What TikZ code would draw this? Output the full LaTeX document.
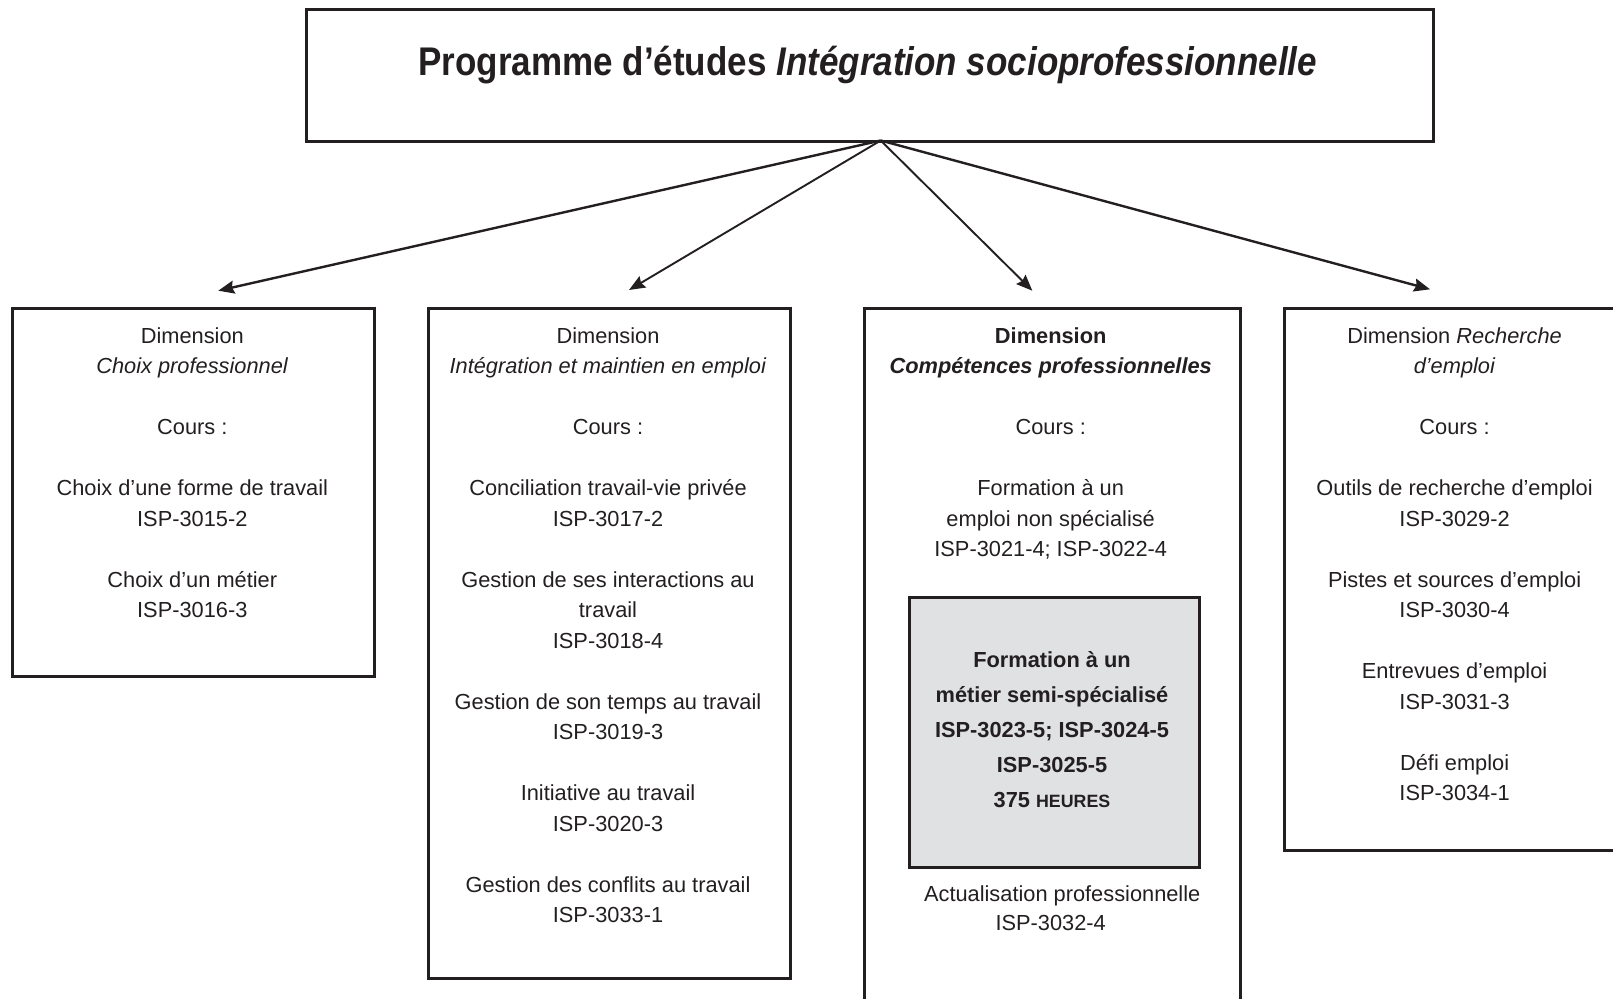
\documentclass[tikz,border=0pt]{standalone}
\usepackage{fontspec}
\setmainfont{Liberation Sans}
\newfontfamily\narrowfam{Liberation Sans}[FakeStretch=0.875]
\usetikzlibrary{arrows.meta}

\definecolor{ink}{RGB}{35,31,32}
\definecolor{shade}{RGB}{224,225,227}

\newcommand\bodyfont{\fontsize{21.8pt}{30.5pt}\selectfont}
\newcommand\titlefont{\narrowfam\fontsize{40pt}{44pt}\selectfont\bfseries}
\newcommand\gap{\\[30.5pt]}

\tikzset{
  frame/.style={draw=ink, line width=3pt, rectangle, inner sep=0pt, anchor=north west},
  boxtext/.style={font=\bodyfont, text=ink, align=center, anchor=north, inner sep=0pt},
  link/.style={draw=ink, -{Stealth[length=16pt,width=13pt,inset=2pt]}},
}

\begin{document}
\begin{tikzpicture}[x=1pt, y=-1pt]
\useasboundingbox (0,0) rectangle (1613,998);

% programme title
\node[frame, minimum width=1127.5pt, minimum height=132pt] (top) at (304.5,8) {};
\node[font=\titlefont, text=ink, anchor=base, inner sep=0pt] (title) at (867.8,75)
  {Programme d’études \textit{Intégration socioprofessionnelle}};

% dimension frames
\node[frame, minimum width=362.1pt, minimum height=368.3pt] (b1) at (11.3,306.5) {};
\node[frame, minimum width=362pt, minimum height=670pt] (b2) at (427,306.5) {};
\node[frame, minimum width=375.5pt, minimum height=710pt] (b3) at (863,306.5) {};
\node[frame, minimum width=343pt, minimum height=542.5pt] (b4) at (1283,306.5) {};
\node[frame, fill=shade, minimum width=290.1pt, minimum height=270pt] (core) at (908.3,596) {};

% frame contents
\node[boxtext] (t1) at (192.3,327.4)
  {Dimension\\\textit{Choix professionnel}\gap
   Cours :\gap
   Choix d’une forme de travail\\ISP-3015-2\gap
   Choix d’un métier\\ISP-3016-3};

\node[boxtext] (t2) at (608,327.4)
  {Dimension\\\textit{Intégration et maintien en emploi}\gap
   Cours :\gap
   Conciliation travail-vie privée\\ISP-3017-2\gap
   Gestion de ses interactions au\\travail\\ISP-3018-4\gap
   Gestion de son temps au travail\\ISP-3019-3\gap
   Initiative au travail\\ISP-3020-3\gap
   Gestion des conflits au travail\\ISP-3033-1};

\node[boxtext] (t3) at (1050.7,327.4)
  {\textbf{Dimension}\\\textbf{\textit{Compétences professionnelles}}\gap
   Cours :\gap
   Formation à un\\emploi non spécialisé\\ISP-3021-4; ISP-3022-4};

\node[font=\fontsize{21.8pt}{35pt}\selectfont\bfseries, text=ink, align=center, inner sep=0pt]
  (t5) at (1052,730)
  {Formation à un\\métier semi-spécialisé\\ISP-3023-5; ISP-3024-5\\ISP-3025-5\\
   375 {\fontsize{17.8pt}{35pt}\selectfont HEURES}};

\node[font=\fontsize{21.8pt}{28.8pt}\selectfont, text=ink, align=center, anchor=north, inner sep=0pt]
  (t6) at (1050.7,885.5)
  {\hspace*{23pt}Actualisation professionnelle\\ISP-3032-4};

\node[boxtext] (t4) at (1454.6,327.4)
  {Dimension \textit{Recherche}\\\textit{d’emploi}\gap
   Cours :\gap
   Outils de recherche d’emploi\\ISP-3029-2\gap
   Pistes et sources d’emploi\\ISP-3030-4\gap
   Entrevues d’emploi\\ISP-3031-3\gap
   Défi emploi\\ISP-3034-1};

% connectors from the programme to each dimension
\coordinate (root) at (880.7,140.5);
\coordinate (e1) at (218.3,290.7);
\coordinate (e2) at (629,290);
\coordinate (e3) at (1032.3,290.7);
\coordinate (e4) at (1430,289.3);
\draw[link, line width=2.4pt] (root) -- (e1);
\draw[link, line width=1.9pt] (root) -- (e2);
\draw[link, line width=1.9pt] (root) -- (e3);
\draw[link, line width=2.4pt] (root) -- (e4);
\end{tikzpicture}
\end{document}
